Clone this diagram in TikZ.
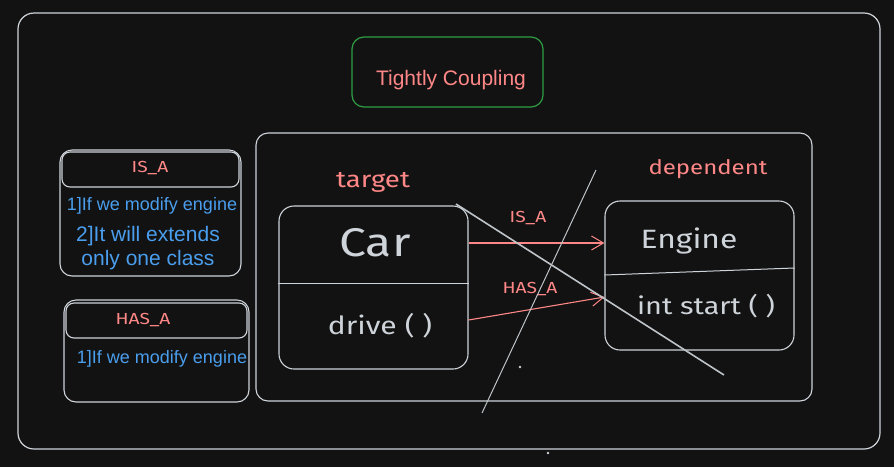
\documentclass[tikz,border=0pt]{standalone}
\usepackage{fontspec}
\setmainfont{Liberation Sans}
\newfontfamily\handfont[FakeStretch=1.2]{Fira Sans}
\usetikzlibrary{arrows.meta}
\definecolor{bgc}{HTML}{121212}
\definecolor{linec}{HTML}{CED4DA}
\definecolor{redc}{HTML}{FF8787}
\definecolor{greenc}{HTML}{2F9E44}
\definecolor{bluec}{HTML}{4A9EED}
\tikzset{
  arr/.style={draw=redc, line width=1.1pt, -{Straight Barb[length=12pt,width=14pt,line width=1pt]}},
  cross/.style={draw=linec!80!gray, line width=1pt},
  smalllbl/.style={text=redc, font=\handfont\fontsize{16}{18}\selectfont},
}
\begin{document}
\begin{tikzpicture}[x=1pt,y=-1pt]
\useasboundingbox[fill=bgc] (0,0) rectangle (894,467);
% outer frame
\node[draw=linec, line width=1.2pt, rounded corners=16pt, minimum width=862pt, minimum height=436pt, inner sep=0pt] (frame) at (449,231) {};
% title
\node[draw=greenc, line width=1.2pt, rounded corners=12pt, minimum width=191pt, minimum height=70pt, inner sep=0pt] (title) at (447.5,72) {};
\node[text=redc, font=\fontsize{21}{24}\selectfont] (titletxt) at (451,80) {Tightly Coupling};
% main frame
\node[draw=linec, line width=1.1pt, rounded corners=12pt, minimum width=556pt, minimum height=268pt, inner sep=0pt] (main) at (534,267) {};
% IS_A box
\node[draw=linec, line width=1.1pt, rounded corners=12pt, minimum width=181pt, minimum height=126pt, inner sep=0pt] (isabox) at (150.5,213) {};
\node[draw=linec, line width=1.1pt, rounded corners=8pt, minimum width=177pt, minimum height=35pt, inner sep=0pt] (isahead) at (150.5,169.5) {};
\node[smalllbl] (isalbl) at (150,168) {IS\_A};
\node[text=bluec, font=\fontsize{18}{20}\selectfont] (isa1) at (152,206) {1]If we modify engine};
\node[text=bluec, font=\fontsize{21}{24}\selectfont, align=center] (isa2) at (148,248) {2]It will extends\\[0pt]only one class};
% HAS_A box
\node[draw=linec, line width=1.1pt, rounded corners=12pt, minimum width=185pt, minimum height=102pt, inner sep=0pt] (hasbox) at (156.5,351) {};
\node[draw=linec, line width=1.1pt, rounded corners=8pt, minimum width=181pt, minimum height=35pt, inner sep=0pt] (hashead) at (156.5,320.5) {};
\node[smalllbl] (haslbl) at (143,320) {HAS\_A};
\node[text=bluec, font=\fontsize{18}{20}\selectfont] (has1) at (162,359) {1]If we modify engine};
% Car class
\node[draw=linec, line width=1.1pt, rounded corners=15pt, minimum width=189pt, minimum height=163pt, inner sep=0pt] (car) at (373.5,287.5) {};
\draw[draw=linec, line width=1pt] (car.west |- 0,283) -- (car.east |- 0,283);
\node[text=linec, font=\handfont\fontsize{40}{44}\selectfont] (cartxt) at (375,243) {Car};
\node[text=linec, font=\handfont\fontsize{25}{28}\selectfont] (drive) at (380,326) {drive ( )};
\node[text=redc, font=\handfont\fontsize{23}{26}\selectfont] (target) at (373,182) {target};
% Engine class
\node[draw=linec, line width=1.1pt, rounded corners=15pt, minimum width=189pt, minimum height=149pt, inner sep=0pt] (engine) at (699.5,275.5) {};
\draw[draw=linec, line width=1pt] (engine.west |- 0,275) -- (engine.east |- 0,268);
\node[text=linec, font=\handfont\fontsize{26.5}{30}\selectfont] (enginetxt) at (689,241) {Engine};
\node[text=linec, font=\handfont\fontsize{24}{28}\selectfont] (start) at (706,306) {int start ( )};
\node[text=redc, font=\handfont\fontsize{20}{24}\selectfont] (dep) at (708,169) {dependent};
% arrows
\draw[arr] (car.east |- 0,243) -- (engine.west |- 0,243);
\draw[arr] (car.east |- 0,320) -- (engine.west |- 0,297);
\node[smalllbl] (isalbl2) at (528,218) {IS\_A};
\node[smalllbl] (haslbl2) at (530,289) {HAS\_A};
% cross-out lines
\coordinate (c1a) at (596,170);
\coordinate (c1b) at (482,413);
\coordinate (c2a) at (456,204);
\coordinate (c2b) at (724,375);
\draw[cross] (c1a) -- (c1b);
\draw[cross, line width=1.6pt] (c2a) -- (c2b);
% dots
\fill[linec] (520,367) circle (1.3pt);
\fill[linec] (548,453) circle (1.3pt);
\end{tikzpicture}
\end{document}
